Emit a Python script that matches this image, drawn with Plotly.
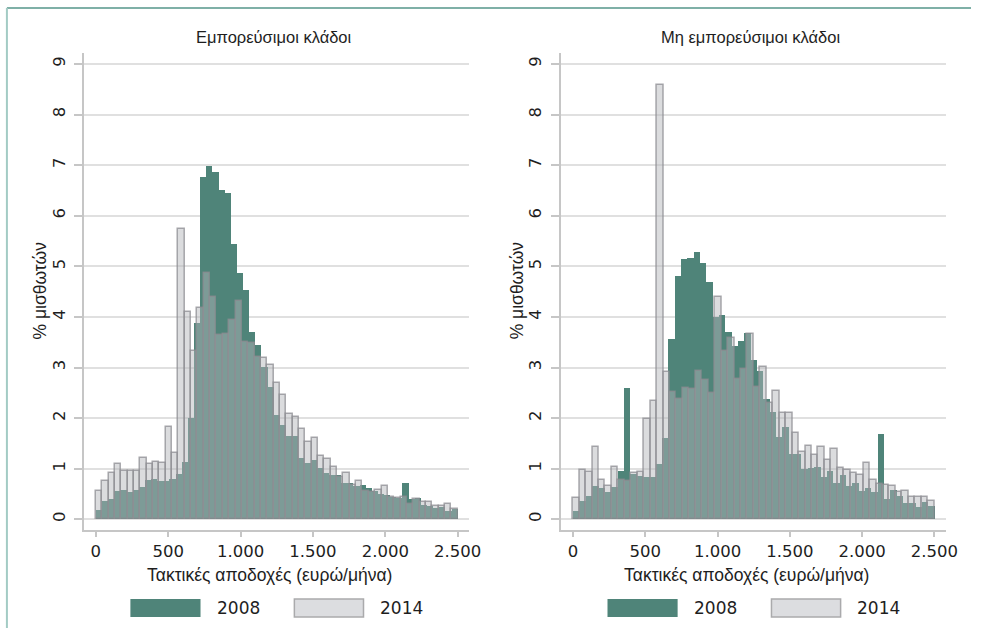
import plotly.graph_objects as go

# Histogram heights (% of employees); each series has its own bin count on 0-2500 €
trad_2008 = [0.18, 0.36, 0.41, 0.55, 0.58, 0.53, 0.58, 0.64, 0.78, 0.80,
             0.76, 0.76, 0.79, 0.90, 1.13, 2.01, 3.89, 6.77, 6.98, 6.87,
             6.50, 6.46, 5.44, 4.86, 4.53, 3.71, 3.45, 3.02, 2.62, 2.06,
             1.86, 1.65, 1.65, 1.21, 1.12, 1.17, 1.01, 0.92, 0.88, 0.88,
             0.72, 0.71, 0.65, 0.68, 0.62, 0.55, 0.50, 0.48, 0.45, 0.42,
             0.72, 0.40, 0.43, 0.29, 0.26, 0.22, 0.25, 0.17, 0.21]
trad_2014 = [0.55, 0.76, 0.91, 1.09, 0.96, 0.96, 0.96, 1.21, 1.09, 1.14,
             1.12, 1.82, 1.32, 5.73, 4.10, 3.33, 4.17, 4.86, 4.39, 3.64,
             3.66, 3.94, 4.31, 3.50, 3.48, 3.21, 3.18, 3.06, 2.69, 2.46,
             2.08, 2.03, 1.78, 1.52, 1.60, 1.25, 1.19, 1.04, 0.84, 0.91,
             0.68, 0.76, 0.55, 0.53, 0.57, 0.65, 0.45, 0.42, 0.45, 0.30,
             0.40, 0.35, 0.35, 0.26, 0.27, 0.30, 0.20]
nontrad_2008 = [0.16, 0.36, 0.46, 0.65, 0.61, 0.53, 0.63, 0.96, 2.60, 0.90,
                0.86, 0.83, 0.84, 1.09, 1.61, 3.56, 4.81, 5.14, 5.16, 5.28,
                5.07, 4.69, 4.00, 4.04, 3.70, 3.43, 3.52, 3.68, 3.15, 2.93,
                2.38, 2.13, 1.62, 1.82, 1.30, 1.30, 0.99, 1.01, 1.04, 0.84,
                0.96, 0.72, 0.88, 0.66, 0.71, 0.55, 0.61, 0.53, 1.68, 0.40,
                0.57, 0.46, 0.33, 0.32, 0.25, 0.35, 0.26]
nontrad_2014 = [0.43, 0.97, 0.93, 1.42, 0.78, 0.66, 1.03, 0.78, 0.76, 0.92,
                0.94, 1.98, 2.34, 8.58, 2.91, 2.52, 2.37, 2.59, 2.58, 2.93,
                2.75, 2.50, 4.40, 3.33, 3.59, 2.77, 2.98, 3.66, 2.61, 3.02,
                2.30, 2.54, 2.11, 2.10, 1.71, 1.34, 1.45, 1.27, 1.42, 1.17,
                1.38, 1.01, 0.97, 0.92, 0.88, 1.12, 0.78, 0.70, 0.68, 0.66,
                0.53, 0.55, 0.45, 0.45, 0.45, 0.37]

wage_min, wage_max = 0, 2500
panel_titles = ['Εμπορεύσιμοι κλάδοι', 'Μη εμπορεύσιμοι κλάδοι']
x_tick_vals = [0, 500, 1000, 1500, 2000, 2500]
x_tick_text = ['0', '500', '1.000', '1.500', '2.000', '2.500']
y_tick_vals = [0, 1, 2, 3, 4, 5, 6, 7, 8, 9]
years = ['2008', '2014']

W, H = 983, 628
TEAL = '#4f8479'
GREY_FILL = 'rgba(178,180,184,0.47)'
GREY_LINE = 'rgba(140,140,146,0.75)'
AXIS = '#c6c6c6'
GRID = '#e0e0e0'
TXT = '#1e1e1e'
TICKFONT = dict(family='DejaVu Sans', size=16.5, color=TXT)
LABFONT = dict(family='Liberation Sans', size=17.5, color=TXT)


def px(x):
    return x / W


def py(y):
    return 1 - y / H


def bins(values):
    w = (wage_max - wage_min) / len(values)
    return [wage_min + w * (i + 0.5) for i in range(len(values))], w


fig = go.Figure()
panels = [
    (trad_2008, trad_2014, 'x', 'y'),
    (nontrad_2008, nontrad_2014, 'x2', 'y2'),
]
for v08, v14, xa, ya in panels:
    c08, w08 = bins(v08)
    c14, w14 = bins(v14)
    fig.add_trace(go.Bar(x=c08, y=v08, width=w08, name='2008', xaxis=xa, yaxis=ya,
                         marker=dict(color=TEAL, line=dict(width=0)), showlegend=False))
    fig.add_trace(go.Bar(x=c14, y=v14, width=w14, name='2014', xaxis=xa, yaxis=ya,
                         marker=dict(color=GREY_FILL, line=dict(color=GREY_LINE, width=1.5)),
                         showlegend=False))

# panel geometry in pixels: (axis left, axis right, px of 0 €, px of 2500 €)
geo = [(85, 475, 97, 463.3), (567.7, 958, 580, 946)]
y_top, y_bot = 53, 530
y0_px, y9_px = 519.3, 64
unit = (y0_px - y9_px) / 9
yr = [-(y_bot - y0_px) / unit, 9 + (y9_px - y_top) / unit]


def note(x, y, text, font, **kw):
    return dict(x=px(x), y=py(y), xref='paper', yref='paper', text=text, showarrow=False,
                xanchor=kw.pop('xanchor', 'center'), yanchor='middle', font=font, **kw)


annotations = []
shapes = []
for i, (l, r, p0, p1) in enumerate(geo):
    k = (p1 - p0) / (wage_max - wage_min)
    xr = [(l - p0) / k, (r - p0) / k]
    sfx = '' if i == 0 else '2'
    fig.update_layout(**{
        'xaxis' + sfx: dict(domain=[px(l), px(r)], range=xr, anchor='y' + sfx,
                            showline=True, linecolor=AXIS, linewidth=1.5,
                            ticks='outside', ticklen=5, tickcolor=AXIS, tickwidth=1.5,
                            tickvals=x_tick_vals, ticktext=x_tick_text, tickfont=TICKFONT,
                            showgrid=False, zeroline=False),
        'yaxis' + sfx: dict(domain=[py(y_bot), py(y_top)], range=yr, anchor='x' + sfx,
                            showline=True, linecolor=AXIS, linewidth=1.5,
                            ticks='outside', ticklen=8, tickcolor=AXIS, tickwidth=1.5,
                            tickvals=y_tick_vals, tickangle=-90, tickfont=TICKFONT,
                            ticklabelstandoff=3,
                            showgrid=True, gridcolor=GRID, gridwidth=1.5, zeroline=False),
    })
    mid = (l + r) / 2
    annotations.append(note(mid - 3, 37, panel_titles[i],
                            dict(family='Liberation Sans', size=16.5, color=TXT)))
    annotations.append(note(p0 + (p1 - p0) * 0.48, 575, 'Τακτικές αποδοχές (ευρώ/μήνα)', LABFONT))
    annotations.append(note(l - 44, 290, '% μισθωτών', LABFONT, textangle=-90))
    # legend drawn per panel
    sw = [(p0 + 35, p0 + 106), (p0 + 201, p0 + 271)]
    for j, (a, b) in enumerate(sw):
        if j == 0:
            shapes.append(dict(type='rect', xref='paper', yref='paper', x0=px(a), x1=px(b),
                               y0=py(617), y1=py(599), fillcolor=TEAL, line=dict(width=0)))
        else:
            shapes.append(dict(type='rect', xref='paper', yref='paper', x0=px(a), x1=px(b),
                               y0=py(617), y1=py(599), fillcolor='#dcdde0',
                               line=dict(color='#aaaaac', width=1.5)))
        annotations.append(note(b + 15, 608, years[j],
                                dict(family='DejaVu Sans', size=17, color=TXT), xanchor='left'))

# outer frame lines
shapes.append(dict(type='line', xref='paper', yref='paper', x0=px(7), x1=1, y0=py(8), y1=py(8),
                   line=dict(color='#7fb0a7', width=2)))
shapes.append(dict(type='line', xref='paper', yref='paper', x0=px(7), x1=px(7), y0=0, y1=py(8),
                   line=dict(color='#a3cbc4', width=2)))

fig.update_layout(width=W, height=H, margin=dict(l=0, r=0, t=0, b=0),
                  barmode='overlay', bargap=0,
                  paper_bgcolor='white', plot_bgcolor='white',
                  annotations=annotations, shapes=shapes, showlegend=False)

# drop the page's default body margin so the figure fills the window exactly
fig.write_html('out.html', config={'responsive': False, 'displayModeBar': False},
               post_script="document.body.style.margin='0';document.body.style.overflow='hidden';")
